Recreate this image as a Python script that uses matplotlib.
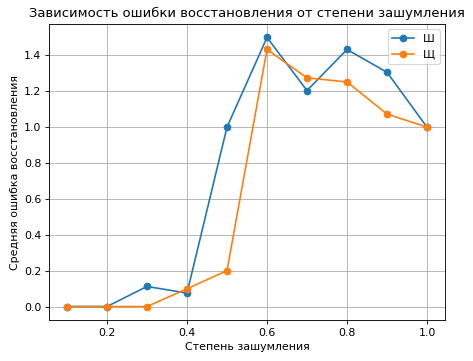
import matplotlib
matplotlib.use('Agg')
import matplotlib.pyplot as plt

noise = [0.1, 0.2, 0.3, 0.4, 0.5, 0.6, 0.7, 0.8, 0.9, 1.0]
err_sh = [0.0, 0.0, 0.112, 0.075, 1.0, 1.5, 1.204, 1.433, 1.306, 1.0]
err_shch = [0.0, 0.0, 0.0, 0.099, 0.2, 1.433, 1.275, 1.252, 1.073, 1.0]

# reference looks like a default-size figure shrunk down, so render at ~79 dpi
dpi = 79
fig = plt.figure(figsize=(473 / dpi, 361 / dpi), dpi=dpi)
ax = fig.add_axes([49 / 473, 41 / 361, 396 / 473, 296 / 361])

ax.plot(noise, err_sh, marker='o', label='Ш')
ax.plot(noise, err_shch, marker='o', label='Щ')

ax.set_title('Зависимость ошибки восстановления от степени зашумления')
ax.set_xlabel('Степень зашумления')
ax.set_ylabel('Средняя ошибка восстановления')
ax.grid(True)
ax.legend(loc='upper right')

fig.savefig('out.png', dpi=dpi)
